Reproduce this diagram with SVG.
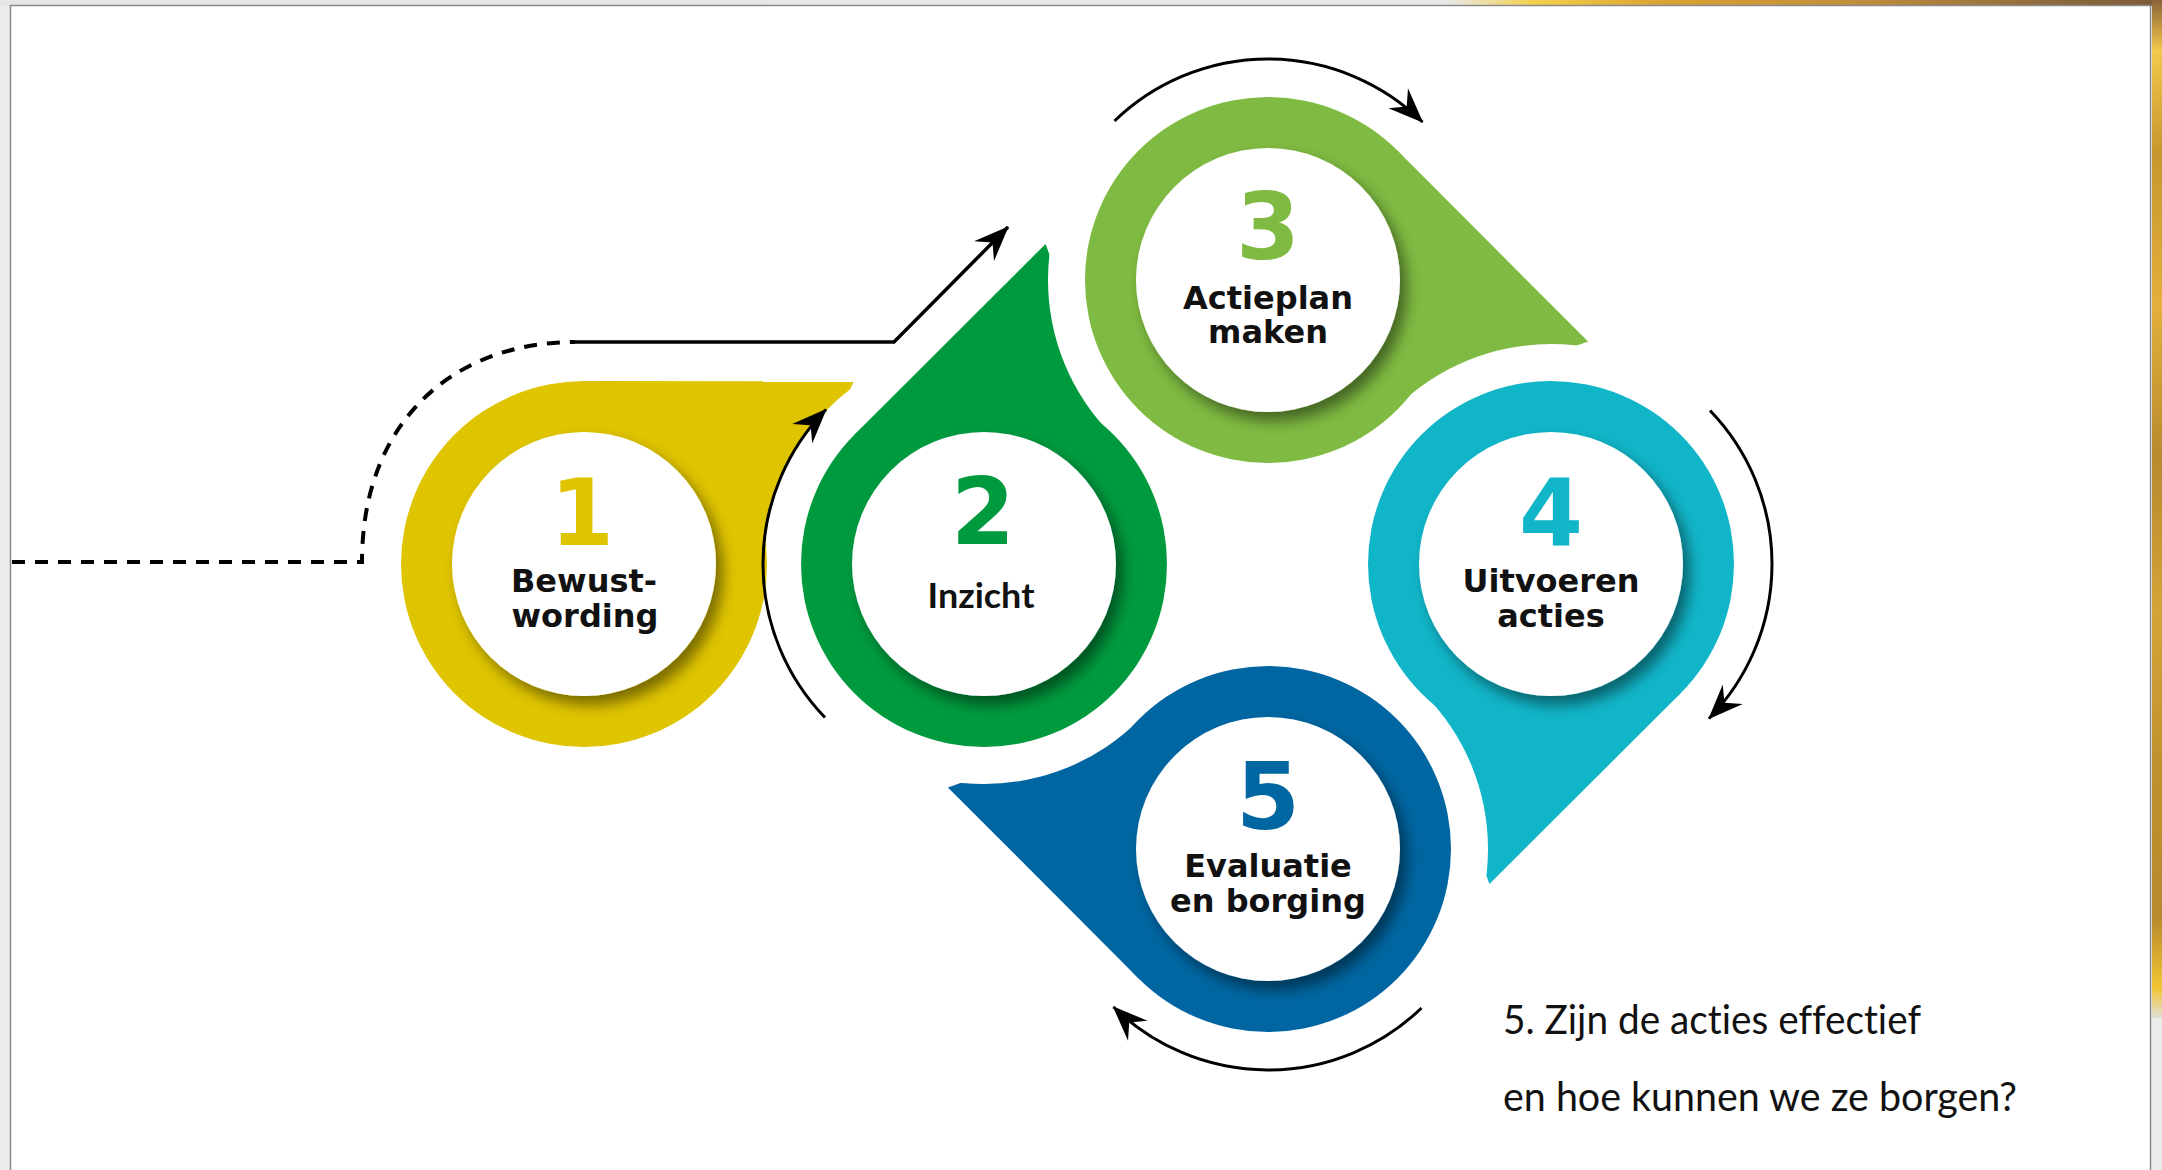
<svg xmlns="http://www.w3.org/2000/svg" width="2162" height="1170" viewBox="0 0 2162 1170">
<style>
.inner{fill:#ffffff;filter:url(#sh)}
.lbl{font-family:"DejaVu Sans","Liberation Sans",sans-serif;font-weight:bold;font-size:32px;fill:#111;text-anchor:middle}
.num{font-family:"DejaVu Sans","Liberation Sans",sans-serif;font-weight:bold;font-size:92px;text-anchor:middle}
.cal{font-family:Lato,"Open Sans",sans-serif;fill:#111;font-variant-ligatures:none;font-feature-settings:"liga" 0,"clig" 0}
.arc{fill:none;stroke:#000;stroke-width:3;marker-end:url(#ah)}
</style>
<defs>
<filter id="sh" x="-30%" y="-30%" width="160%" height="160%">
<feDropShadow dx="7" dy="9" stdDeviation="7" flood-color="#000" flood-opacity="0.45"/>
</filter>
<marker id="ah" markerUnits="userSpaceOnUse" markerWidth="36" markerHeight="30" viewBox="0 0 36 30" refX="34" refY="15" orient="auto">
<path d="M0,1 L35,15 L0,29 L12,15 Z" fill="#000"/>
</marker>
<linearGradient id="topg" x1="0" y1="0" x2="1" y2="0">
<stop offset="0" stop-color="#e6e6e6"/>
<stop offset="0.67" stop-color="#e8e8e8"/>
<stop offset="0.71" stop-color="#f4d04a"/>
<stop offset="0.77" stop-color="#d9a233"/>
<stop offset="0.86" stop-color="#c08e3c"/>
<stop offset="0.95" stop-color="#8c6a3e"/>
<stop offset="1" stop-color="#7d5a35"/>
</linearGradient>
<linearGradient id="rg" x1="0" y1="0" x2="0" y2="1">
<stop offset="0" stop-color="#8a6438"/>
<stop offset="0.05" stop-color="#f2c84a"/>
<stop offset="0.15" stop-color="#c8962e"/>
<stop offset="0.3" stop-color="#e3b03a"/>
<stop offset="0.45" stop-color="#b88a2e"/>
<stop offset="0.6" stop-color="#d6a338"/>
<stop offset="0.75" stop-color="#c0922e"/>
<stop offset="0.9" stop-color="#b8892c"/>
<stop offset="0.97" stop-color="#f2c432"/>
<stop offset="1" stop-color="#e0e0d8"/>
</linearGradient>
<mask id="m1" maskUnits="userSpaceOnUse" x="0" y="0" width="2162" height="1170"><rect width="2162" height="1170" fill="#fff"/><circle cx="984" cy="564" r="220" fill="#000"/></mask>
<mask id="m2" maskUnits="userSpaceOnUse" x="0" y="0" width="2162" height="1170"><rect width="2162" height="1170" fill="#fff"/><circle cx="1268" cy="280" r="220" fill="#000"/></mask>
<mask id="m3" maskUnits="userSpaceOnUse" x="0" y="0" width="2162" height="1170"><rect width="2162" height="1170" fill="#fff"/><circle cx="1551" cy="564" r="220" fill="#000"/></mask>
<mask id="m4" maskUnits="userSpaceOnUse" x="0" y="0" width="2162" height="1170"><rect width="2162" height="1170" fill="#fff"/><circle cx="1268" cy="849" r="220" fill="#000"/></mask>
<mask id="m5" maskUnits="userSpaceOnUse" x="0" y="0" width="2162" height="1170"><rect width="2162" height="1170" fill="#fff"/><circle cx="984" cy="564" r="220" fill="#000"/></mask>
</defs>

<g id="frame">
<rect x="0" y="0" width="2162" height="1170" fill="#ebebeb"/>
<rect x="0" y="0" width="2162" height="6" fill="url(#topg)"/>
<rect x="2152" y="0" width="10" height="1018" fill="url(#rg)"/>
<rect x="10.5" y="5.5" width="2140" height="1170" fill="#ffffff" stroke="#8a8a8a" stroke-width="1.5"/>
</g>

<g id="node1" fill="#dfc400">
<circle cx="584" cy="564" r="183"/>
<polygon mask="url(#m1)" points="584,381 853.9,381.2 767,564 584,564"/>
<circle class="inner" cx="584" cy="564" r="132"/>
<text class="num" x="582" y="545" fill="#dfc400">1</text>
<text class="lbl" x="584" y="592">Bewust-</text>
<text class="lbl" x="585" y="627">wording</text>
</g>

<g id="node2" fill="#009a3e">
<circle cx="984" cy="564" r="183"/>
<polygon mask="url(#m2)" points="854.6,434.6 1045.6,243.9 1113.4,434.6 984,564"/>
<circle class="inner" cx="984" cy="564" r="132"/>
<text class="num" x="983" y="544" fill="#009a3e">2</text>
<text class="cal" x="981" y="608" font-size="35" font-weight="bold" text-anchor="middle" textLength="107" lengthAdjust="spacingAndGlyphs">Inzicht</text>
</g>

<g id="node3" fill="#7fba42">
<circle cx="1268" cy="280" r="183"/>
<polygon mask="url(#m3)" points="1397.4,150.6 1588.1,341.6 1397.4,409.4 1268,280"/>
<circle class="inner" cx="1268" cy="280" r="132"/>
<text class="num" x="1268" y="259" fill="#7fba42">3</text>
<text class="lbl" x="1268" y="309">Actieplan</text>
<text class="lbl" x="1268" y="343">maken</text>
</g>

<g id="node4" fill="#11b5c8">
<circle cx="1551" cy="564" r="183"/>
<polygon mask="url(#m4)" points="1680.4,693.4 1489.4,884.1 1421.6,693.4 1551,564"/>
<circle class="inner" cx="1551" cy="564" r="132"/>
<text class="num" x="1551" y="545" fill="#11b5c8">4</text>
<text class="lbl" x="1551" y="592">Uitvoeren</text>
<text class="lbl" x="1551" y="627">acties</text>
</g>

<g id="node5" fill="#0066a1">
<circle cx="1268" cy="849" r="183"/>
<polygon mask="url(#m5)" points="1138.6,978.4 947.9,787.4 1138.6,719.6 1268,849"/>
<circle class="inner" cx="1268" cy="849" r="132"/>
<text class="num" x="1268" y="829" fill="#0066a1">5</text>
<text class="lbl" x="1268" y="877">Evaluatie</text>
<text class="lbl" x="1268" y="912">en borging</text>
</g>

<g id="connectors">
<path d="M12,562 H362 C362,420 455,342 575,342" fill="none" stroke="#000" stroke-width="4" stroke-dasharray="13 10"/>
<path d="M575,342 H894 L1008,227" fill="none" stroke="#000" stroke-width="3.5" marker-end="url(#ah)"/>
<path class="arc" d="M825,717.5 A221,221 0 0 1 826,409.5"/>
<path class="arc" d="M1114.5,121 A221,221 0 0 1 1422.5,122"/>
<path class="arc" d="M1710,410.5 A221,221 0 0 1 1709,718.5"/>
<path class="arc" d="M1421.5,1008 A221,221 0 0 1 1113.5,1007"/>
</g>

<g id="note">
<text class="cal" x="1503" y="1034" font-size="40" textLength="418" lengthAdjust="spacingAndGlyphs">5. Zijn de acties effectief</text>
<text class="cal" x="1503" y="1111" font-size="40" textLength="514" lengthAdjust="spacingAndGlyphs">en hoe kunnen we ze borgen?</text>
</g>
</svg>
